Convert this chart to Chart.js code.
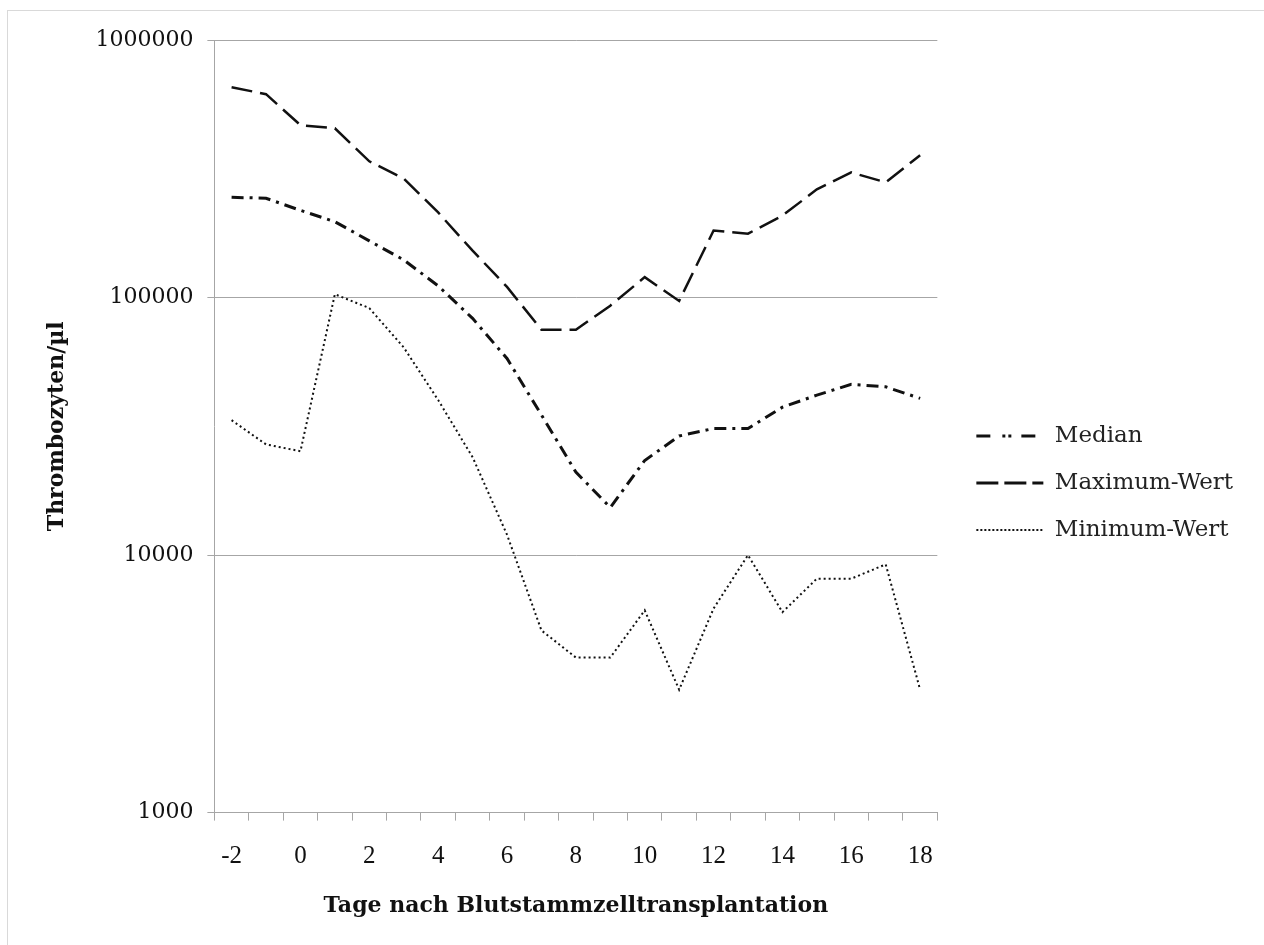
<!DOCTYPE html>
<html>
<head>
<meta charset="utf-8">
<script src="https://cdn.jsdelivr.net/npm/chart.js@4.4.1/dist/chart.umd.min.js"></script>
<style>
  html, body { margin: 0; padding: 0; background: #fff; }
  #frame { position: absolute; left: 7px; top: 10px; width: 1270px; height: 950px; border: 1px solid #d9d9d9; }
  #wrap { position: absolute; left: 0; top: 0; width: 1264px; height: 945px; }
</style>
</head>
<body>
<div id="frame"></div>
<div id="wrap"><canvas id="line-chart"></canvas></div>
<script>
// days after transplantation
const days = [-2, -1, 0, 1, 2, 3, 4, 5, 6, 7, 8, 9, 10, 11, 12, 13, 14, 15, 16, 17, 18];

// platelets per µl
const medianValues = [245000, 243000, 218000, 197000, 166000, 140000, 111000, 83000, 58000, 35000, 21000,
                      15300, 23300, 29000, 31000, 31000, 37500, 41800, 46000, 45000, 40600];
const maxValues = [656000, 616000, 467000, 454000, 338000, 290000, 214000, 152000, 110000, 75000, 75000,
                   93000, 120000, 97000, 182000, 177000, 208000, 263000, 306000, 280000, 357000];
const minValues = [33400, 26900, 25300, 103000, 91000, 64000, 40000, 24000, 12000, 5100, 4000,
                   4000, 6100, 3000, 6200, 10000, 6000, 8100, 8100, 9200, 3000];

const yTicks = [1000, 10000, 100000, 1000000];

const serif = 'DejaVu Serif';

// legend samples are drawn with slightly different dash lengths than the lines
const legendDashes = [[14, 12, 3, 3, 3, 10], [22, 6], [2, 2]];

// nudge the legend a bit away from the plot, like the original
const legendShift = {
    id: 'legendShift',
    afterLayout(chart) {
        const l = chart.legend;
        l.left += 15;
        l.right += 15;
    }
};

const ctx = document.getElementById('line-chart').getContext('2d');
const lineChart = new Chart(ctx, {
    type: 'line',
    data: {
        labels: days,
        datasets: [{
            label: 'Median',
            data: medianValues,
            borderColor: '#111',
            borderWidth: 3,
            borderDash: [12, 6, 3, 6],
            pointRadius: 0,
            tension: 0,
            fill: false,
        }, {
            label: 'Maximum-Wert',
            data: maxValues,
            borderColor: '#111',
            borderWidth: 2.5,
            borderDash: [21, 8],
            pointRadius: 0,
            tension: 0,
            fill: false,
        }, {
            label: 'Minimum-Wert',
            data: minValues,
            borderColor: '#111',
            borderWidth: 2,
            borderDash: [2, 3],
            pointRadius: 0,
            tension: 0,
            fill: false,
        }]
    },
    plugins: [legendShift],
    options: {
        responsive: true,
        maintainAspectRatio: false,
        animation: false,
        layout: { padding: { left: 30, right: 36, top: 40, bottom: 19 } },
        plugins: {
            tooltip: { enabled: false },
            legend: {
                position: 'right',
                align: 'center',
                labels: {
                    color: '#222',
                    font: { family: serif, size: 23 },
                    usePointStyle: true,
                    pointStyle: 'line',
                    pointStyleWidth: 67,
                    boxWidth: 67,
                    boxHeight: 23,
                    padding: 24,
                    generateLabels: function (chart) {
                        return chart.data.datasets.map((ds, i) => ({
                            text: ds.label,
                            datasetIndex: i,
                            fillStyle: ds.borderColor,
                            strokeStyle: ds.borderColor,
                            fontColor: '#222',
                            lineWidth: i === 2 ? 2 : 3,
                            lineDash: legendDashes[i],
                            pointStyle: 'line',
                            hidden: false
                        }));
                    }
                }
            }
        },
        scales: {
            x: {
                type: 'category',
                offset: true,
                grid: {
                    display: true,
                    offset: true,
                    drawOnChartArea: false,
                    drawTicks: true,
                    tickLength: 8,
                    color: '#a6a6a6',
                },
                border: { display: true, color: '#a6a6a6' },
                ticks: {
                    autoSkip: false,
                    maxRotation: 0,
                    color: '#111',
                    padding: 21,
                    font: { family: 'Liberation Serif', size: 25 },
                    callback: function (val, i) {
                        const d = days[i];
                        return d % 2 === 0 ? String(d) : '';
                    }
                },
                title: {
                    display: true,
                    text: 'Tage nach Blutstammzelltransplantation',
                    color: '#111',
                    font: { family: serif, size: 22, weight: 'bold' },
                    padding: { top: 0, bottom: 7 }
                }
            },
            y: {
                type: 'logarithmic',
                min: 1000,
                max: 1000000,
                afterBuildTicks: function (scale) {
                    scale.ticks = yTicks.map(v => ({ value: v }));
                },
                grid: {
                    color: '#a6a6a6',
                    tickLength: 7,
                },
                border: { display: true, color: '#a6a6a6' },
                ticks: {
                    color: '#111',
                    padding: 14,
                    font: { family: serif, size: 22 },
                    callback: v => String(v)
                },
                title: {
                    display: true,
                    text: 'Thrombozyten/µl',
                    color: '#111',
                    font: { family: serif, size: 22, weight: 'bold' },
                    padding: { top: 14, bottom: 11 }
                }
            }
        }
    }
});
</script>
</body>
</html>
